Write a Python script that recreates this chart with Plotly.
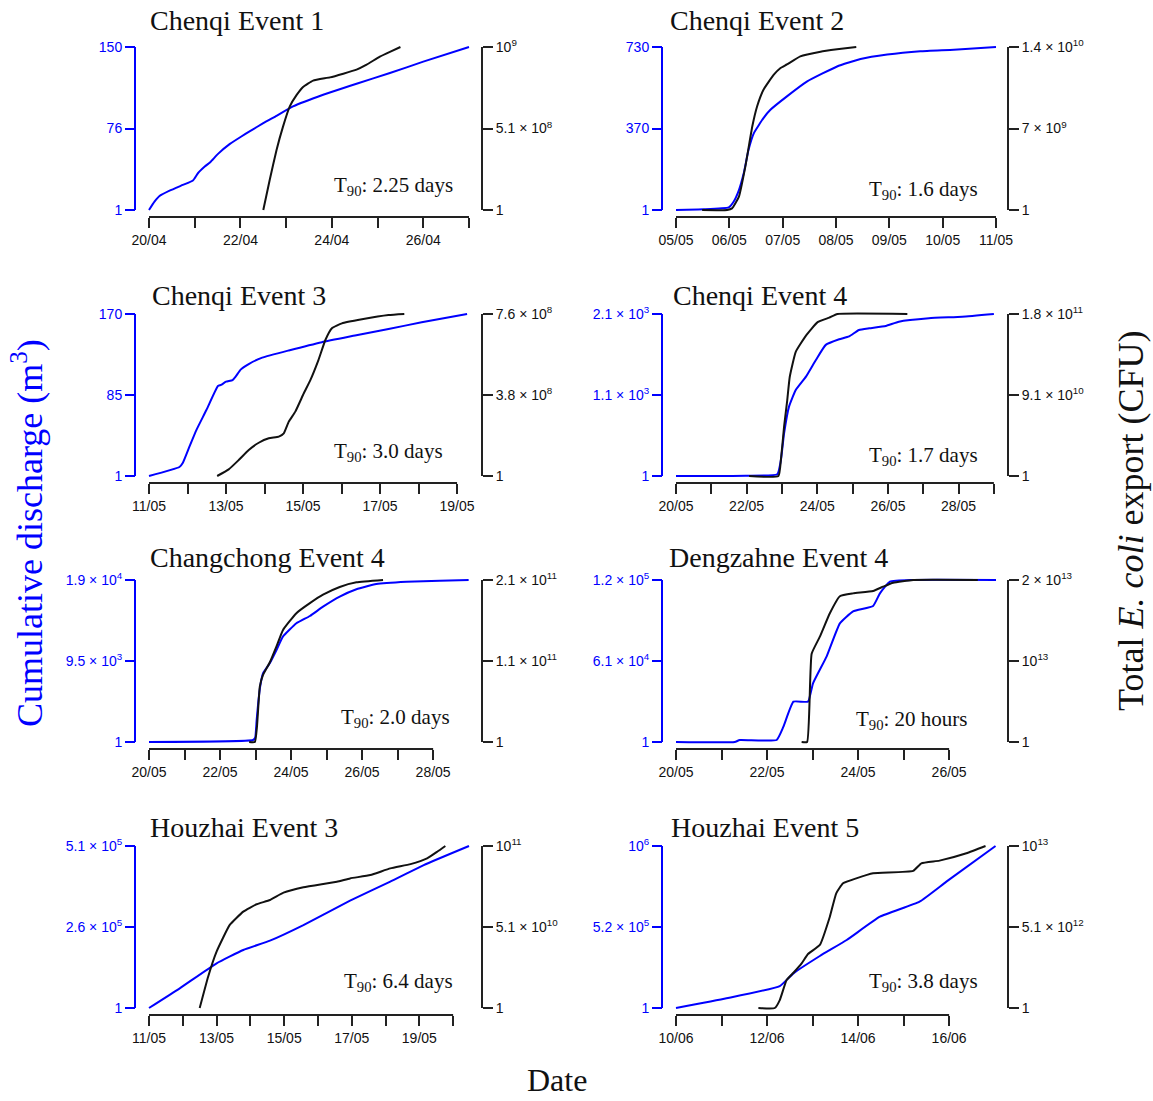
import pandas as pd
import plotly.graph_objects as go

W, H = 1153, 1101
BLUE = "#0000ff"
BLACK = "#111111"
SERIF = "Liberation Serif, Times New Roman, serif"
SANS = "Liberation Sans, Arial, Helvetica, sans-serif"

# ---------------- data (elapsed days from event start date, values) ----------------
# Chenqi Event 1
p1_blue_days = [0, 0.12, 0.23, 0.45, 0.74, 0.96, 1.07, 1.22, 1.34, 1.51, 1.77, 2.02, 2.20, 2.50, 2.79, 3.15, 3.81, 4.54, 5.27, 6.0, 7.0]
p1_blue = [1, 8.6, 13.8, 18.7, 23.9, 27.9, 34.6, 40.7, 44.7, 52.3, 61.4, 68.2, 72.8, 80.4, 87.1, 95.7, 106.4, 116.4, 126.2, 136.6, 150]
p1_black_days = [2.50, 2.64, 2.79, 2.93, 3.08, 3.23, 3.37, 3.59, 3.96, 4.25, 4.54, 4.76, 5.05, 5.27, 5.50]
p1_black = [1, 1.88e8, 3.76e8, 5.2e8, 6.48e8, 7.2e8, 7.7e8, 8.1e8, 8.3e8, 8.53e8, 8.78e8, 9.09e8, 9.6e8, 9.9e8, 1.02e9]

# Chenqi Event 2
p2_blue_days = [0, 0.52, 0.99, 1.08, 1.18, 1.27, 1.36, 1.46, 1.64, 1.77, 2.08, 2.46, 3.02, 3.46, 3.96, 4.58, 5.21, 6.0]
p2_blue = [1, 4, 13, 38, 90, 165, 270, 345, 412, 449, 509, 576, 643, 676, 696, 711, 718, 730]
p2_black_days = [0.49, 0.96, 1.05, 1.18, 1.30, 1.43, 1.52, 1.64, 1.83, 1.96, 2.08, 2.33, 2.71, 3.02, 3.38]
p2_black = [1, 1, 1.4e8, 1.15e9, 3.73e9, 7.17e9, 8.89e9, 1.033e10, 1.16e10, 1.22e10, 1.25e10, 1.32e10, 1.36e10, 1.38e10, 1.4e10]

# Chenqi Event 3
p3_blue_days = [0, 0.79, 0.88, 1.05, 1.23, 1.49, 1.79, 1.87, 2.00, 2.17, 2.25, 2.38, 2.60, 2.94, 3.63, 4.49, 5.35, 6.22, 7.08, 8.26]
p3_blue = [1, 10.4, 14.9, 31.6, 48.9, 69.8, 94.9, 96, 99.4, 101, 104.6, 112, 118, 124.5, 132, 140.6, 147.5, 154.4, 161.3, 170]
p3_black_days = [1.77, 2.07, 2.33, 2.59, 2.85, 3.11, 3.37, 3.50, 3.63, 3.80, 4.02, 4.19, 4.40, 4.58, 4.75, 5.01, 5.53, 6.22, 6.63]
p3_black = [1, 3.1e7, 7.5e7, 1.22e8, 1.56e8, 1.77e8, 1.85e8, 2.0e8, 2.55e8, 3.02e8, 3.88e8, 4.5e8, 5.44e8, 6.38e8, 6.93e8, 7.16e8, 7.35e8, 7.55e8, 7.6e8]

# Chenqi Event 4
p4_blue_days = [0, 1.98, 2.87, 2.97, 3.06, 3.20, 3.39, 3.68, 3.96, 4.24, 4.62, 4.90, 5.18, 5.47, 5.94, 6.31, 7.16, 8.10, 9.0]
p4_blue = [1, 5, 25, 208, 553, 900, 1115, 1288, 1504, 1700, 1772, 1810, 1893, 1915, 1945, 2000, 2044, 2065, 2100]
p4_black_days = [2.07, 2.90, 2.97, 3.06, 3.15, 3.22, 3.39, 3.68, 4.01, 4.34, 4.57, 6.55]
p4_black = [1, 1, 1.78e10, 5.48e10, 8.44e10, 1.10e11, 1.38e11, 1.56e11, 1.71e11, 1.76e11, 1.8e11, 1.8e11]

# Changchong Event 4
p5_blue_days = [0, 2.93, 2.99, 3.03, 3.08, 3.13, 3.21, 3.40, 3.59, 3.77, 4.15, 4.53, 4.90, 5.37, 5.84, 6.40, 7.25, 8.19, 9.0]
p5_blue = [1, 235, 500, 2500, 4800, 6500, 8050, 9230, 10790, 12350, 13920, 14780, 15870, 17050, 17910, 18530, 18800, 18920, 19000]
p5_black_days = [2.82, 2.98, 3.04, 3.12, 3.21, 3.40, 3.59, 3.77, 4.15, 4.53, 4.90, 5.37, 5.84, 6.59]
p5_black = [1, 1, 1.99e10, 7.17e10, 8.69e10, 1.03e11, 1.24e11, 1.45e11, 1.67e11, 1.80e11, 1.91e11, 2.01e11, 2.07e11, 2.1e11]

# Dengzahne Event 4
p6_blue_days = [0, 1.29, 1.40, 2.21, 2.36, 2.58, 2.90, 3.01, 3.31, 3.60, 3.89, 4.33, 4.48, 4.70, 5.21, 7.03]
p6_blue = [1, 1, 1480, 1480, 11360, 29880, 29880, 43460, 63460, 87900, 96800, 100740, 110120, 118760, 120000, 120000]
p6_black_days = [2.76, 2.88, 2.98, 3.16, 3.38, 3.60, 3.89, 4.33, 4.55, 4.77, 5.21, 6.63]
p6_black = [1, 1, 1.09e13, 1.30e13, 1.59e13, 1.80e13, 1.835e13, 1.864e13, 1.918e13, 1.967e13, 2.0e13, 2.0e13]

# Houzhai Event 3
p7_blue_days = [0, 0.91, 2.00, 2.79, 3.58, 4.57, 5.95, 7.14, 8.13, 9.47]
p7_blue = [1, 61900, 140600, 182600, 212000, 261000, 338000, 398000, 450000, 510000]
p7_black_days = [1.50, 1.75, 2.00, 2.39, 2.79, 3.18, 3.58, 3.98, 4.57, 5.56, 5.95, 6.55, 7.14, 7.74, 8.23, 8.53, 8.77]
p7_black = [1, 1.97e10, 3.55e10, 5.23e10, 6.07e10, 6.53e10, 6.8e10, 7.26e10, 7.6e10, 7.95e10, 8.16e10, 8.37e10, 8.79e10, 9.06e10, 9.42e10, 9.84e10, 1.02e11]

# Houzhai Event 5
p8_blue_days = [0, 1.11, 2.28, 2.58, 3.16, 3.75, 4.48, 5.35, 5.94, 7.02]
p8_blue = [1, 62000, 141000, 222500, 333800, 436500, 586000, 682600, 811000, 1040000]
p8_black_days = [1.81, 2.17, 2.28, 2.43, 2.58, 2.76, 2.90, 3.16, 3.38, 3.52, 3.67, 3.96, 4.33, 5.21, 5.39, 5.79, 6.38, 6.80]
p8_black = [1, 1, 5.0e11, 1.76e12, 2.22e12, 2.81e12, 3.4e12, 3.97e12, 5.75e12, 7.22e12, 7.85e12, 8.16e12, 8.48e12, 8.63e12, 9.11e12, 9.28e12, 9.74e12, 1.02e13]

titles = ["Chenqi Event 1", "Chenqi Event 2", "Chenqi Event 3", "Chenqi Event 4",
          "Changchong Event 4", "Dengzahne Event 4", "Houzhai Event 3", "Houzhai Event 5"]
start_dates = ["2014-04-20", "2014-05-05", "2014-05-11", "2014-05-20",
               "2014-05-20", "2014-05-20", "2014-05-11", "2014-06-10"]
t90_labels = ["2.25 days", "1.6 days", "3.0 days", "1.7 days", "2.0 days", "20 hours", "6.4 days", "3.8 days"]
blue_max = [150, 730, 170, 2100, 19000, 120000, 510000, 1040000]
black_max = [1.02e9, 1.4e10, 7.6e8, 1.8e11, 2.1e11, 2.0e13, 1.02e11, 1.02e13]
blue_ticklabels = [
    ["1", "76", "150"],
    ["1", "370", "730"],
    ["1", "85", "170"],
    ["1", "1.1 × 10<sup>3</sup>", "2.1 × 10<sup>3</sup>"],
    ["1", "9.5 × 10<sup>3</sup>", "1.9 × 10<sup>4</sup>"],
    ["1", "6.1 × 10<sup>4</sup>", "1.2 × 10<sup>5</sup>"],
    ["1", "2.6 × 10<sup>5</sup>", "5.1 × 10<sup>5</sup>"],
    ["1", "5.2 × 10<sup>5</sup>", "10<sup>6</sup>"],
]
black_ticklabels = [
    ["1", "5.1 × 10<sup>8</sup>", "10<sup>9</sup>"],
    ["1", "7 × 10<sup>9</sup>", "1.4 × 10<sup>10</sup>"],
    ["1", "3.8 × 10<sup>8</sup>", "7.6 × 10<sup>8</sup>"],
    ["1", "9.1 × 10<sup>10</sup>", "1.8 × 10<sup>11</sup>"],
    ["1", "1.1 × 10<sup>11</sup>", "2.1 × 10<sup>11</sup>"],
    ["1", "10<sup>13</sup>", "2 × 10<sup>13</sup>"],
    ["1", "5.1 × 10<sup>10</sup>", "10<sup>11</sup>"],
    ["1", "5.1 × 10<sup>12</sup>", "10<sup>13</sup>"],
]
n_day_ticks = [8, 7, 9, 10, 9, 7, 10, 7]      # daily ticks from start date
label_every = [2, 1, 2, 2, 2, 2, 2, 2]
x_end_days = [7.0, 6.0, 8.31, 9.06, 9.01, 7.03, 9.47, 7.03]

blue_days = [p1_blue_days, p2_blue_days, p3_blue_days, p4_blue_days, p5_blue_days, p6_blue_days, p7_blue_days, p8_blue_days]
blue_vals = [p1_blue, p2_blue, p3_blue, p4_blue, p5_blue, p6_blue, p7_blue, p8_blue]
black_days = [p1_black_days, p2_black_days, p3_black_days, p4_black_days, p5_black_days, p6_black_days, p7_black_days, p8_black_days]
black_vals = [p1_black, p2_black, p3_black, p4_black, p5_black, p6_black, p7_black, p8_black]

# ---------------- layout geometry (pixels) ----------------
COL_DOMAIN = [(149, 469), (676, 996)]
COL_LEFT_AXIS = [135, 662]
COL_RIGHT_AXIS = [482, 1008]
ROW_TOP = [47, 314, 580, 846]
ROW_BOTTOM = [210, 476, 742, 1008]
AXIS_GAP = 7
TITLE_POS = [(148, 21), (668, 21), (150, 296), (671, 296), (148, 557), (667, 557), (148, 827), (669, 827)]
T90_POS = [(455, 186), (980, 190), (445, 452), (980, 456), (452, 718), (970, 720), (455, 982), (980, 982)]
PAD = 2.0


def ax_name(prefix, n):
    return prefix if n == 1 else f"{prefix}{n}"


fig = go.Figure()
layout_axes = {}
shapes = []
annotations = []

for i in range(8):
    r, c = divmod(i, 2)
    xn, yl, yr = i + 1, 2 * i + 1, 2 * i + 2
    base = pd.Timestamp(start_dates[i])

    def to_date(d, base=base):
        return (base + pd.to_timedelta(d, unit="D")).isoformat()

    x0p, x1p = COL_DOMAIN[c]
    ppd = (x1p - x0p) / x_end_days[i]
    pad_d = PAD / ppd
    ytop, ybot = ROW_TOP[r], ROW_BOTTOM[r]
    ydom = [1 - (ybot + PAD) / H, 1 - (ytop - PAD) / H]
    xpos = 1 - (ybot + AXIS_GAP) / H

    tick_days = list(range(n_day_ticks[i]))
    tickvals = [to_date(d) for d in tick_days]
    ticktext = [(base + pd.Timedelta(days=d)).strftime("%d/%m") if d % label_every[i] == 0 else "" for d in tick_days]

    layout_axes[ax_name("xaxis", xn)] = dict(
        domain=[(x0p - PAD) / W, (x1p + PAD) / W], type="date",
        range=[to_date(-pad_d), to_date(x_end_days[i] + pad_d)],
        anchor="free", position=xpos, side="bottom", automargin=False,
        showgrid=False, zeroline=False, showline=False,
        ticks="outside", ticklen=10, tickwidth=2, tickcolor="#222222",
        tickvals=tickvals, ticktext=ticktext,
        tickfont=dict(family=SANS, size=14, color="#111111"),
    )

    bm = blue_max[i]
    pad_b = PAD * (bm - 1) / (ybot - ytop)
    layout_axes[ax_name("yaxis", yl)] = dict(
        domain=ydom, range=[1 - pad_b, bm + pad_b],
        anchor="free", position=COL_LEFT_AXIS[c] / W, side="left", automargin=False,
        showgrid=False, zeroline=False, showline=False,
        ticks="outside", ticklen=10, tickwidth=2, tickcolor=BLUE,
        tickvals=[1, (1 + bm) / 2, bm], ticktext=blue_ticklabels[i],
        tickfont=dict(family=SANS, size=14, color=BLUE),
    )
    km = black_max[i]
    pad_k = PAD * (km - 1) / (ybot - ytop)
    layout_axes[ax_name("yaxis", yr)] = dict(
        domain=ydom, range=[1 - pad_k, km + pad_k], overlaying=ax_name("y", yl),
        anchor="free", position=COL_RIGHT_AXIS[c] / W, side="right", automargin=False,
        showgrid=False, zeroline=False, showline=False,
        ticks="outside", ticklen=10, tickwidth=2, tickcolor="#222222",
        tickvals=[1, (1 + km) / 2, km], ticktext=black_ticklabels[i],
        tickfont=dict(family=SANS, size=14, color="#111111"),
    )

    # axis lines (R style: span between end ticks)
    shapes.append(dict(type="line", xref="paper", yref=ax_name("y", yl),
                       x0=COL_LEFT_AXIS[c] / W, x1=COL_LEFT_AXIS[c] / W, y0=1, y1=bm,
                       line=dict(color=BLUE, width=2)))
    shapes.append(dict(type="line", xref="paper", yref=ax_name("y", yr),
                       x0=COL_RIGHT_AXIS[c] / W, x1=COL_RIGHT_AXIS[c] / W, y0=1, y1=km,
                       line=dict(color="#222222", width=2)))
    shapes.append(dict(type="line", xref=ax_name("x", xn), yref="paper",
                       x0=tickvals[0], x1=tickvals[-1], y0=xpos, y1=xpos,
                       line=dict(color="#222222", width=2)))

    fig.add_trace(go.Scatter(
        x=[to_date(d) for d in blue_days[i]], y=blue_vals[i],
        xaxis=ax_name("x", xn), yaxis=ax_name("y", yl), mode="lines",
        line=dict(color=BLUE, width=2, shape="spline", smoothing=0.4),
        hoverinfo="skip", showlegend=False))
    fig.add_trace(go.Scatter(
        x=[to_date(d) for d in black_days[i]], y=black_vals[i],
        xaxis=ax_name("x", xn), yaxis=ax_name("y", yr), mode="lines",
        line=dict(color=BLACK, width=2, shape="spline", smoothing=0.4),
        hoverinfo="skip", showlegend=False))

    tx, ty = TITLE_POS[i]
    annotations.append(dict(text=titles[i], xref="paper", yref="paper", x=tx / W, y=1 - ty / H,
                            xanchor="left", yanchor="middle", showarrow=False,
                            font=dict(family=SERIF, size=28, color="#111111")))
    px_, py_ = T90_POS[i]
    annotations.append(dict(text="T<sub>90</sub>: " + t90_labels[i], xref="paper", yref="paper",
                            x=px_ / W, y=1 - py_ / H, xanchor="right", yanchor="middle",
                            showarrow=False, font=dict(family=SERIF, size=21, color="#111111")))

annotations.append(dict(text="Cumulative discharge (m<sup>3</sup>)", xref="paper", yref="paper",
                        x=28 / W, y=1 - 533 / H, textangle=-90, showarrow=False,
                        xanchor="center", yanchor="middle",
                        font=dict(family=SERIF, size=36, color=BLUE)))
annotations.append(dict(text="Total <i>E. coli</i> export (CFU)", xref="paper", yref="paper",
                        x=1131 / W, y=1 - 521 / H, textangle=-90, showarrow=False,
                        xanchor="center", yanchor="middle",
                        font=dict(family=SERIF, size=36, color="#111111")))
annotations.append(dict(text="Date", xref="paper", yref="paper",
                        x=557 / W, y=1 - 1080 / H, showarrow=False,
                        xanchor="center", yanchor="middle",
                        font=dict(family=SERIF, size=32, color="#111111")))

fig.update_layout(
    width=W, height=H, margin=dict(l=0, r=0, t=0, b=0, pad=0, autoexpand=False),
    paper_bgcolor="white", plot_bgcolor="white",
    showlegend=False, shapes=shapes, annotations=annotations,
    **layout_axes,
)

fig.write_html("out.html")
